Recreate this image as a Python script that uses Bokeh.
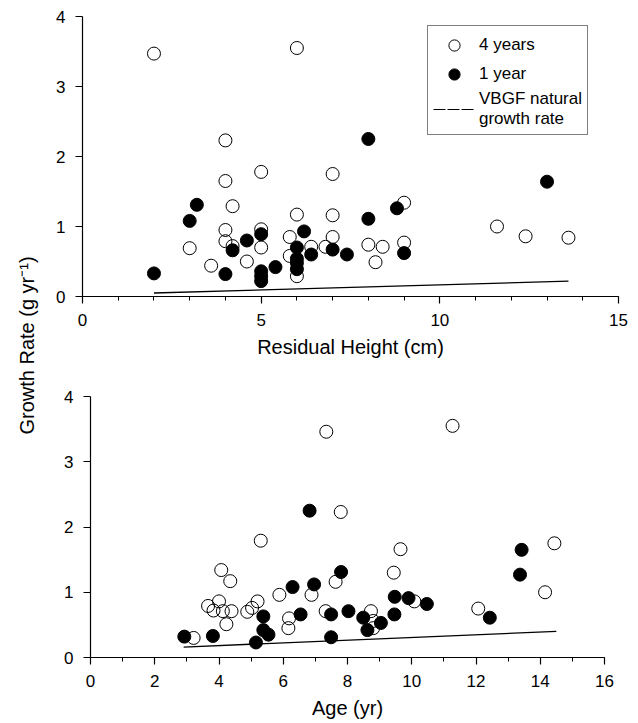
import math
from bokeh.plotting import figure
from bokeh.models import (Legend, LegendItem, Label, SingleIntervalTicker, Range1d)
from bokeh.layouts import row, column
from bokeh.embed import file_html
from bokeh.resources import INLINE

FONT = "Liberation Sans"

# ---- data: top panel (Residual Height) ----
top_open_x = [2, 4, 6, 4, 5, 7, 4.2, 6, 7, 4, 5, 3, 4, 4.2, 5, 3.6, 4.6, 5.8, 5.8, 6,
              6.4, 6.8, 7, 9, 8, 8.4, 8.2, 9, 11.6, 12.4, 13.6]
top_open_y = [3.47, 2.23, 3.55, 1.65, 1.78, 1.75, 1.29, 1.17, 1.16, 0.95, 0.96, 0.69,
              0.79, 0.72, 0.70, 0.44, 0.50, 0.85, 0.58, 0.29, 0.71, 0.71, 0.85, 1.34,
              0.74, 0.71, 0.49, 0.77, 1.00, 0.86, 0.84]
top_filled_x = [2, 3, 3.2, 4, 4.2, 4.6, 5, 5, 5, 5, 5.4, 6, 6, 6, 6, 6.2, 6.4, 7, 7.4,
                8, 8.8, 8, 9, 13]
top_filled_y = [0.33, 1.08, 1.31, 0.32, 0.66, 0.80, 0.89, 0.36, 0.29, 0.22, 0.42, 0.70,
                0.54, 0.48, 0.39, 0.93, 0.60, 0.67, 0.60, 2.25, 1.26, 1.11, 0.62, 1.64]
top_vbgf_x = [2, 13.6]
top_vbgf_y = [0.05, 0.22]

# ---- data: bottom panel (Age) ----
bot_open_x = [7.34, 7.79, 11.27, 5.30, 4.07, 4.35, 3.66, 3.83, 4.0, 4.12, 4.39, 4.23,
              3.21, 4.88, 5.03, 5.2, 5.88, 6.18, 6.16, 6.88, 7.63, 7.32, 8.73, 8.8,
              8.8, 9.44, 9.65, 10.08, 12.07, 14.15, 14.44]
bot_open_y = [3.46, 2.23, 3.55, 1.79, 1.34, 1.17, 0.79, 0.72, 0.86, 0.71, 0.71, 0.51,
              0.30, 0.70, 0.76, 0.86, 0.96, 0.60, 0.45, 0.96, 1.16, 0.71, 0.71, 0.56,
              0.45, 1.30, 1.66, 0.86, 0.75, 1.00, 1.75]
bot_filled_x = [2.92, 3.81, 5.15, 5.38, 5.38, 5.54, 6.29, 6.54, 6.96, 6.82, 7.8, 7.49,
                7.49, 8.03, 8.49, 8.62, 9.04, 9.46, 9.47, 9.9, 10.47, 12.43, 13.42, 13.37]
bot_filled_y = [0.32, 0.33, 0.23, 0.63, 0.42, 0.35, 1.08, 0.66, 1.12, 2.25, 1.31, 0.66,
                0.31, 0.71, 0.61, 0.42, 0.53, 0.66, 0.93, 0.91, 0.82, 0.61, 1.65, 1.27]
bot_vbgf_x = [2.9, 14.5]
bot_vbgf_y = [0.16, 0.40]

legend_labels = ["4 years", "1 year", "VBGF natural\ngrowth rate"]


def style(p, xint, xminor, xlabel):
    p.grid.visible = False
    p.outline_line_color = None
    p.xaxis.ticker = SingleIntervalTicker(interval=xint, num_minor_ticks=xminor)
    p.yaxis.ticker = SingleIntervalTicker(interval=1, num_minor_ticks=0)
    for ax in (p.xaxis[0], p.yaxis[0]):
        ax.axis_line_color = "black"
        ax.axis_line_width = 1.2
        ax.major_tick_line_color = "black"
        ax.major_tick_line_width = 1.2
        ax.minor_tick_line_color = "black"
        ax.major_tick_in = 0
        ax.major_tick_out = 7
        ax.minor_tick_in = 0
        ax.minor_tick_out = 4
        ax.major_label_text_font = FONT
        ax.major_label_text_font_size = "17px"
        ax.major_label_text_color = "black"
        ax.major_label_standoff = 10
        ax.axis_label_text_font = FONT
        ax.axis_label_text_font_size = "20px"
        ax.axis_label_text_font_style = "normal"
        ax.axis_label_text_color = "black"
        ax.axis_label_standoff = 7
    p.yaxis.minor_tick_line_color = None
    p.xaxis.axis_label = xlabel


def draw(p, ox, oy, fx, fy, vx, vy):
    r_line = p.line(vx, vy, line_color="black", line_width=1.3)
    r_open = p.scatter(ox, oy, marker="circle", size=13, fill_color=None,
                       line_color="black", line_width=1)
    r_fill = p.scatter(fx, fy, marker="circle", size=13, fill_color="black",
                       line_color="black", line_width=1)
    return r_open, r_fill, r_line


p1 = figure(width=586, height=360, x_range=Range1d(0, 15), y_range=Range1d(0, 4),
            output_backend="svg", toolbar_location=None,
            min_border_top=16, min_border_left=38, min_border_right=12,
            min_border_bottom=64)
style(p1, 5, 5, "Residual Height (cm)")
o1, f1, l1 = draw(p1, top_open_x, top_open_y, top_filled_x, top_filled_y,
                  top_vbgf_x, top_vbgf_y)
# legend-only line sample (dashed, as in the key); no visible data
r_key = p1.line([float("nan")], [float("nan")], line_color="black", line_width=1.2,
                line_dash="12 2")

legend = Legend(items=[LegendItem(label=legend_labels[0], renderers=[o1]),
                       LegendItem(label=legend_labels[1], renderers=[f1]),
                       LegendItem(label=legend_labels[2], renderers=[r_key])],
                location=(345, 161), orientation="vertical",
                border_line_color="black", border_line_width=1,
                background_fill_color="white", background_fill_alpha=1,
                padding=5, spacing=1, margin=0,
                glyph_width=42, glyph_height=28, label_standoff=4,
                label_text_font=FONT, label_text_font_size="17px",
                label_text_color="black", label_height=20)
p1.add_layout(legend)

p2 = figure(width=586, height=363, x_range=Range1d(0, 16), y_range=Range1d(0, 4),
            output_backend="svg", toolbar_location=None,
            min_border_top=36, min_border_left=46, min_border_right=26,
            min_border_bottom=66)
style(p2, 2, 2, "Age (yr)")
draw(p2, bot_open_x, bot_open_y, bot_filled_x, bot_filled_y, bot_vbgf_x, bot_vbgf_y)

lab = figure(width=44, height=723, x_range=Range1d(0, 44), y_range=Range1d(0, 723),
             output_backend="svg", toolbar_location=None, min_border=0,
             x_axis_location=None, y_axis_location=None)
lab.grid.visible = False
lab.outline_line_color = None
lab.add_layout(Label(x=26, y=378, text="Growth Rate (g yr\u207b\u00b9)",
                     angle=math.pi / 2, text_align="center", text_baseline="middle",
                     text_font=FONT, text_font_size="20px", text_color="black"))

layout = row(lab, column(p1, row(p2, spacing=0), spacing=0), spacing=0)

open("out.html", "w").write(file_html(layout, INLINE))
